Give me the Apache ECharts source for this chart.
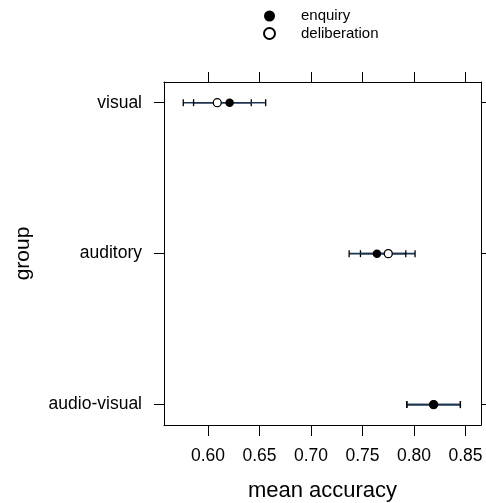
<!DOCTYPE html>
<html>
<head>
<meta charset="utf-8">
<script src="https://cdn.jsdelivr.net/npm/echarts@6/dist/echarts.min.js"></script>
<style>
  html, body { margin: 0; padding: 0; background: #fff; }
  #chart { width: 486px; height: 503px; }
</style>
</head>
<body>
<div id="chart"></div>
<script>
// groups from bottom to top of the panel
var groups = ['audio-visual', 'auditory', 'visual'];
var groupPos = [1, 2, 3];
var xTicks = [0.60, 0.65, 0.70, 0.75, 0.80, 0.85];

// enquiry: mean and interval ends
var enquiryMean = [0.819, 0.764, 0.621];
var enquiryLow = [0.793, 0.737, 0.586];
var enquiryHigh = [0.845, 0.792, 0.656];

// deliberation: mean and interval ends
var deliberationMean = [0.819, 0.775, 0.609];
var deliberationLow = [0.793, 0.748, 0.576];
var deliberationHigh = [0.845, 0.801, 0.642];

var font = 'Liberation Sans, Arial, Helvetica, sans-serif';

function pointData(means) {
  return means.map(function (m, i) { return [m, groupPos[i]]; });
}
function barData(lows, highs) {
  return lows.map(function (l, i) { return [l, highs[i], groupPos[i]]; });
}

// horizontal interval line with small end caps
function renderBar(params, api) {
  var y = api.value(2);
  var a = api.coord([api.value(0), y]);
  var b = api.coord([api.value(1), y]);
  var h = 3.5;
  return {
    type: 'group',
    children: [
      { type: 'line', shape: { x1: a[0], y1: a[1], x2: b[0], y2: b[1] },
        style: { stroke: '#1d3550', lineWidth: 1.6 } },
      { type: 'line', shape: { x1: a[0], y1: a[1] - h, x2: a[0], y2: a[1] + h },
        style: { stroke: '#000', lineWidth: 1.3 } },
      { type: 'line', shape: { x1: b[0], y1: b[1] - h, x2: b[0], y2: b[1] + h },
        style: { stroke: '#000', lineWidth: 1.3 } }
    ]
  };
}

var chart = echarts.init(document.getElementById('chart'));
var lineStyle = { color: '#000', width: 1 };

chart.setOption({
  animation: false,
  backgroundColor: '#fff',
  textStyle: { fontFamily: font },
  legend: {
    data: ['enquiry', 'deliberation'],
    orient: 'vertical',
    left: 258,
    top: 3.5,
    itemWidth: 53,
    itemHeight: 11,
    itemGap: 2.5,
    textStyle: { fontSize: 15, color: '#000', fontFamily: font, lineHeight: 15 }
  },
  grid: { left: 164, right: 5, top: 82, bottom: 78, outerBoundsMode: 'none', containLabel: false },
  xAxis: [{
    type: 'value',
    position: 'bottom',
    min: 0.5573,
    max: 0.865,
    name: 'mean accuracy',
    nameLocation: 'middle',
    nameGap: 55,
    nameTextStyle: { fontSize: 22, color: '#000', fontFamily: font },
    axisLine: { show: true, lineStyle: lineStyle },
    axisTick: { show: true, length: 11, lineStyle: lineStyle, customValues: xTicks },
    axisLabel: { show: true, margin: 22, fontSize: 17.5, color: '#000', fontFamily: font,
      customValues: xTicks, formatter: function (v) { return v.toFixed(2); } },
    splitLine: { show: false }
  }, {
    type: 'value',
    position: 'top',
    min: 0.5573,
    max: 0.865,
    axisLine: { show: true, lineStyle: lineStyle },
    axisTick: { show: true, length: 10, lineStyle: lineStyle, customValues: xTicks },
    axisLabel: { show: false },
    splitLine: { show: false }
  }],
  yAxis: [{
    type: 'value',
    position: 'left',
    min: 0.865,
    max: 3.137,
    name: 'group',
    nameLocation: 'middle',
    nameGap: 130,
    nameTextStyle: { fontSize: 21, color: '#000', fontFamily: font },
    axisLine: { show: true, lineStyle: lineStyle },
    axisTick: { show: true, length: 10, lineStyle: lineStyle, customValues: groupPos },
    axisLabel: { show: true, margin: 22, fontSize: 17.5, color: '#000', fontFamily: font,
      customValues: groupPos, formatter: function (v) { return groups[groupPos.indexOf(v)]; } },
    splitLine: { show: false }
  }, {
    type: 'value',
    position: 'right',
    min: 0.865,
    max: 3.137,
    axisLine: { show: true, lineStyle: lineStyle },
    axisTick: { show: true, length: 10, lineStyle: lineStyle, customValues: groupPos },
    axisLabel: { show: false },
    splitLine: { show: false }
  }],
  series: [{
    type: 'custom',
    name: 'deliberation-bars',
    renderItem: renderBar,
    encode: { x: [0, 1], y: 2 },
    data: barData(deliberationLow, deliberationHigh),
    z: 2
  }, {
    type: 'custom',
    name: 'enquiry-bars',
    renderItem: renderBar,
    encode: { x: [0, 1], y: 2 },
    data: barData(enquiryLow, enquiryHigh),
    z: 2
  }, {
    type: 'scatter',
    name: 'deliberation',
    data: pointData(deliberationMean),
    symbol: 'circle',
    symbolSize: 8,
    itemStyle: { color: '#fff', borderColor: '#000', borderWidth: 1.3, opacity: 1 },
    z: 3
  }, {
    type: 'scatter',
    name: 'enquiry',
    data: pointData(enquiryMean),
    symbol: 'circle',
    symbolSize: 8.5,
    itemStyle: { color: '#000', opacity: 1 },
    z: 4
  }]
});
</script>
</body>
</html>
